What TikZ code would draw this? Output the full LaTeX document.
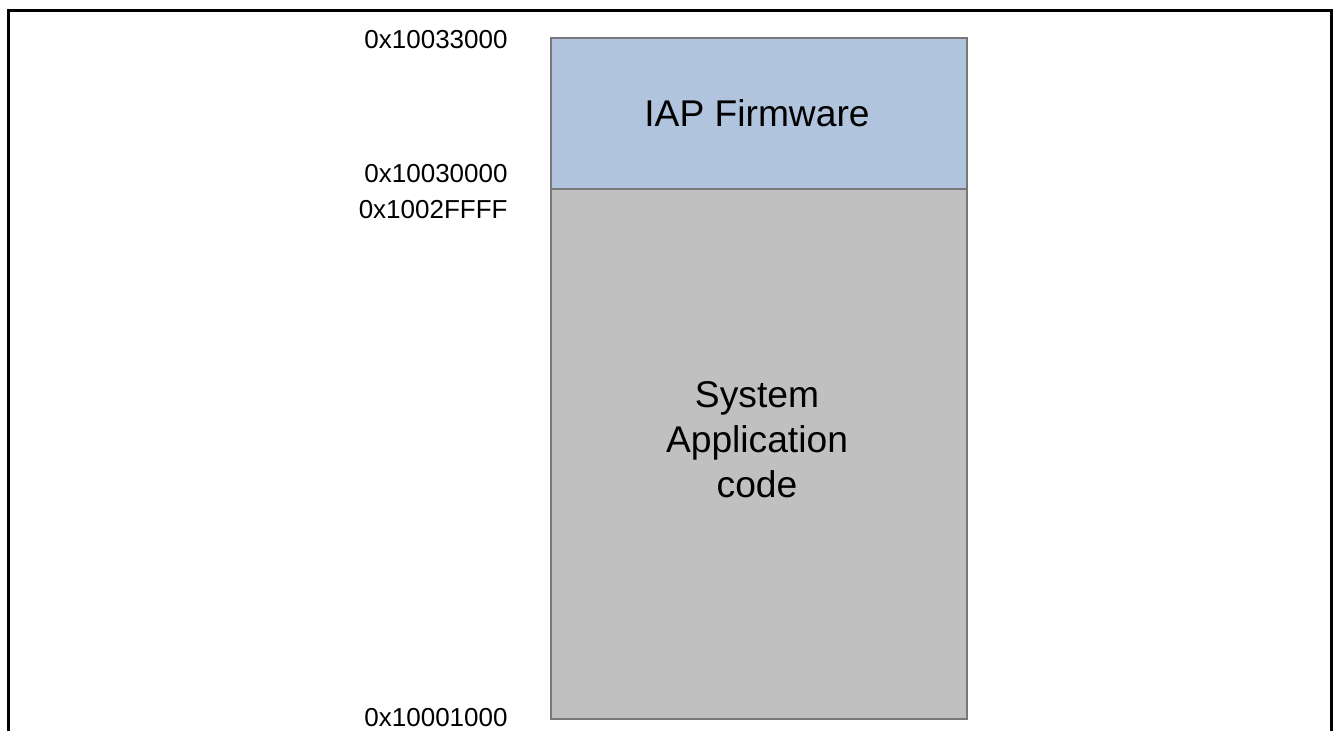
\documentclass[tikz,border=0pt]{standalone}
\usepackage{fontspec}
\setmainfont{Liberation Sans}
\definecolor{iapblue}{RGB}{176,196,222}
\definecolor{appgray}{RGB}{192,192,192}
\definecolor{edgegray}{RGB}{120,120,120}
\begin{document}
\begin{tikzpicture}[x=0.5pt,y=-0.5pt,
  region/.style={draw=edgegray, line width=0.7pt, inner sep=0pt, minimum width=208pt},
  bigtext/.style={font=\fontsize{18.6pt}{22.5pt}\selectfont, align=center, inner sep=0pt},
  addr/.style={font=\fontsize{13pt}{15pt}\selectfont, anchor=base east, inner sep=0pt}]
\useasboundingbox (0,0) rectangle (1334,731);
% frame
\draw[line width=1.5pt] (8,731) -- (8,11) -- (1331,11) -- (1331,731);
% memory regions
\node[region, fill=iapblue, minimum height=75.5pt] (iap) at (759,113.5) {};
\node[region, fill=appgray, minimum height=265pt] (app) at (759,454) {};
\node[bigtext] (iaptext) at (757,113) {IAP Firmware};
\node[bigtext] (apptext) at (757,440) {System\\Application\\code};
% addresses
\node[addr] (a1) at (508,49) {0x10033000};
\node[addr] (a2) at (508,183) {0x10030000};
\node[addr] (a3) at (508,219) {0x1002FFFF};
\node[addr] (a4) at (508,726) {0x10001000};
\end{tikzpicture}
\end{document}
